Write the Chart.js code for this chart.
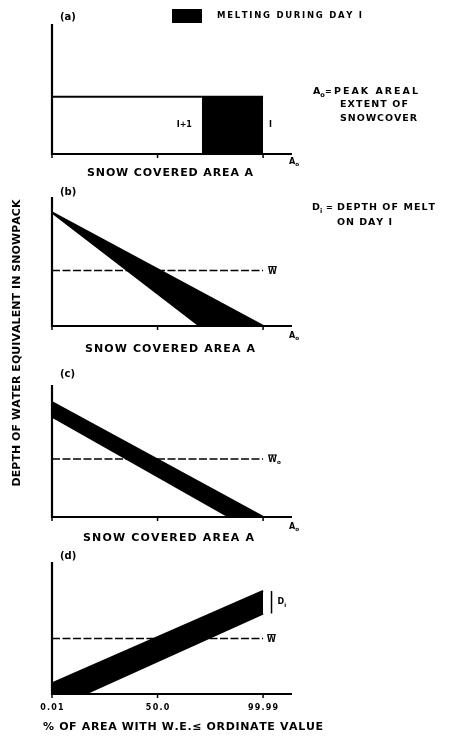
<!DOCTYPE html>
<html>
<head>
<meta charset="utf-8">
<script src="https://cdn.jsdelivr.net/npm/chart.js@4.4.0/dist/chart.umd.min.js"></script>
<style>
  html, body { margin: 0; padding: 0; background: #fff; }
  #wrap { position: relative; width: 449px; height: 741px; }
  #wrap canvas { position: absolute; left: 0; top: 0; }
</style>
</head>
<body>
<div id="wrap">
  <canvas id="chartA" width="449" height="741"></canvas>
  <canvas id="chartB" width="449" height="741"></canvas>
  <canvas id="chartC" width="449" height="741"></canvas>
  <canvas id="chartD" width="449" height="741"></canvas>
</div>
<script>
// (a) snow covered area after day i+1 and day i (fraction of A0), uniform depth
var areaA = [0.71, 1.0];
var depthA = 0.44;

// (b) depth falls linearly to zero, same depth at A = 0 both days
var areaB = [0.70, 1.0];
var depthB = 0.88;
var meanB = 0.43;

// (c) depth at A = 0 for day i+1 and day i
var areaC = [0.84, 1.0];
var depthC = [0.76, 0.87];
var meanC = 0.44;

// (d) depth vs % of area, probability axis
var probTicks = ['0.01', '50.0', '99.99'];
var tickPos = [0, 0.5, 1];
var startD = 0.08;       // day i at 0.01 %
var zeroD = 0.156;       // day i+1 reaches zero
var endD = [0.61, 0.78]; // at 99.99 %: day i+1, day i
var meanD = 0.42;

var XMAX = 1.137;
var FONT = '"DejaVu Sans", sans-serif';

// draw text with letters spread out to fill width w
function spread(ctx, str, x, y, w, size) {
  ctx.font = 'bold ' + size + 'px ' + FONT;
  ctx.textBaseline = 'middle';
  ctx.textAlign = 'left';
  var widths = [], total = 0;
  for (var i = 0; i < str.length; i++) {
    var cw = ctx.measureText(str[i]).width;
    widths.push(cw);
    total += cw;
  }
  var gap = (w && str.length > 1) ? (w - total) / (str.length - 1) : 0;
  var cx = x;
  for (var i = 0; i < str.length; i++) {
    ctx.fillText(str[i], cx, y);
    cx += widths[i] + gap;
  }
  return cx;
}

function withSub(ctx, main, sub, x, y, size) {
  var end = spread(ctx, main, x, y, null, size);
  spread(ctx, sub, end, y + size * 0.35, null, size * 0.7);
}

function wBar(ctx, sub, x, y, size) {
  ctx.font = 'bold ' + size + 'px ' + FONT;
  var w = ctx.measureText('W').width;
  spread(ctx, 'W', x, y, null, size);
  ctx.lineWidth = 1;
  ctx.beginPath();
  ctx.moveTo(x, y - size * 0.62);
  ctx.lineTo(x + w, y - size * 0.62);
  ctx.stroke();
  if (sub) spread(ctx, sub, x + w, y + size * 0.35, null, size * 0.7);
}

function drawAxes(chart) {
  var ctx = chart.ctx, a = chart.chartArea, xs = chart.scales.x;
  ctx.strokeStyle = '#000';
  ctx.fillStyle = '#000';
  ctx.lineWidth = 2.2;
  ctx.beginPath();
  ctx.moveTo(a.left, a.top);
  ctx.lineTo(a.left, a.bottom);
  ctx.lineTo(a.right, a.bottom);
  ctx.stroke();
  ctx.lineWidth = 1.5;
  tickPos.forEach(function (v) {
    var px = xs.getPixelForValue(v);
    ctx.beginPath();
    ctx.moveTo(px, a.bottom);
    ctx.lineTo(px, a.bottom + 4);
    ctx.stroke();
  });
}

function makeChart(id, top, bottom, datasets, extra) {
  return new Chart(document.getElementById(id), {
    type: 'line',
    data: { datasets: datasets },
    options: {
      responsive: false,
      animation: false,
      layout: { padding: { left: 52, right: 157, top: top, bottom: 741 - bottom } },
      scales: {
        x: { type: 'linear', display: false, min: 0, max: XMAX },
        y: { display: false, min: 0, max: 1 }
      },
      plugins: { legend: { display: false }, tooltip: { enabled: false } },
      elements: {
        point: { radius: 0 },
        line: { tension: 0, borderColor: '#000', borderWidth: 2 }
      }
    },
    plugins: [{
      id: 'panel' + id,
      afterDatasetsDraw: function (chart) {
        var ctx = chart.ctx;
        ctx.save();
        drawAxes(chart);
        extra(ctx, chart);
        ctx.restore();
      }
    }]
  });
}

function meanLine(v) {
  return { data: [{ x: 0, y: v }, { x: 1, y: v }], borderWidth: 1.5, borderDash: [8, 2.5], fill: false };
}

// (a)
makeChart('chartA', 24, 154, [
  { data: [{ x: 0, y: depthA }, { x: areaA[0], y: depthA }], fill: false },
  { data: [{ x: areaA[0], y: depthA }, { x: areaA[1], y: depthA }], fill: 'origin', backgroundColor: '#000' }
], function (ctx, chart) {
  var xs = chart.scales.x, ys = chart.scales.y, a = chart.chartArea;
  spread(ctx, '(a)', 60, 17, null, 10);
  ctx.fillRect(172, 9, 30, 14);
  spread(ctx, 'MELTING DURING DAY I', 217, 16, 145, 8.5);
  spread(ctx, 'I+1', xs.getPixelForValue(areaA[0]) - 25, ys.getPixelForValue(depthA / 2), 15, 8);
  spread(ctx, 'I', xs.getPixelForValue(areaA[1]) + 6, ys.getPixelForValue(depthA / 2), null, 8);
  withSub(ctx, 'A', 'o', a.right - 3, a.bottom + 8, 8);
  spread(ctx, 'SNOW COVERED AREA A', 87, 173, 166, 11);
  // notes on the right
  withSub(ctx, 'A', 'o', 313, 92, 9.5);
  spread(ctx, '=', 325, 92, null, 8);
  spread(ctx, 'PEAK AREAL', 334, 92, 84, 9.5);
  spread(ctx, 'EXTENT OF', 340, 105, 68, 9.5);
  spread(ctx, 'SNOWCOVER', 340, 119, 77, 9.5);
  // y title
  ctx.save();
  ctx.translate(17, 343);
  ctx.rotate(-Math.PI / 2);
  spread(ctx, 'DEPTH OF WATER EQUIVALENT IN SNOWPACK', -143.5, 0, 287, 11);
  ctx.restore();
});

// (b)
makeChart('chartB', 197, 326, [
  { data: [{ x: 0, y: depthB }, { x: areaB[1], y: 0 }], fill: '+1', backgroundColor: '#000' },
  { data: [{ x: 0, y: depthB }, { x: areaB[0], y: 0 }, { x: areaB[1], y: 0 }], fill: false },
  meanLine(meanB)
], function (ctx, chart) {
  var xs = chart.scales.x, ys = chart.scales.y, a = chart.chartArea;
  spread(ctx, '(b)', 60, 192, null, 10);
  wBar(ctx, null, xs.getPixelForValue(1) + 5, ys.getPixelForValue(meanB) + 1, 8);
  withSub(ctx, 'A', 'o', a.right - 3, a.bottom + 10, 8);
  spread(ctx, 'SNOW COVERED AREA A', 85, 349, 170, 11);
  withSub(ctx, 'D', 'i', 312, 208, 9.5);
  spread(ctx, '=', 326, 208, null, 8);
  spread(ctx, 'DEPTH OF MELT', 337, 208, 98, 9.5);
  spread(ctx, 'ON DAY I', 337, 223, 55, 9.5);
});

// (c)
makeChart('chartC', 385, 517, [
  { data: [{ x: 0, y: depthC[1] }, { x: areaC[1], y: 0 }], fill: '+1', backgroundColor: '#000' },
  { data: [{ x: 0, y: depthC[0] }, { x: areaC[0], y: 0 }, { x: areaC[1], y: 0 }], fill: false },
  meanLine(meanC)
], function (ctx, chart) {
  var xs = chart.scales.x, ys = chart.scales.y, a = chart.chartArea;
  spread(ctx, '(c)', 60, 374, null, 10);
  wBar(ctx, 'o', xs.getPixelForValue(1) + 5, ys.getPixelForValue(meanC) + 1, 8);
  withSub(ctx, 'A', 'o', a.right - 3, a.bottom + 10, 8);
  spread(ctx, 'SNOW COVERED AREA A', 83, 538, 171, 11);
});

// (d)
makeChart('chartD', 562, 694, [
  { data: [{ x: 0, y: startD }, { x: 1, y: endD[1] }], fill: '+1', backgroundColor: '#000' },
  { data: [{ x: 0, y: 0 }, { x: zeroD, y: 0 }, { x: 1, y: endD[0] }], fill: false },
  meanLine(meanD),
  { data: [{ x: 1.04, y: endD[0] }, { x: 1.04, y: endD[1] }], borderWidth: 1.5, fill: false }
], function (ctx, chart) {
  var xs = chart.scales.x, ys = chart.scales.y;
  spread(ctx, '(d)', 60, 556, null, 10);
  wBar(ctx, null, xs.getPixelForValue(1) + 4, ys.getPixelForValue(meanD) + 1, 8);
  withSub(ctx, 'D', 'i', xs.getPixelForValue(1.04) + 6, ys.getPixelForValue((endD[0] + endD[1]) / 2), 8);
  probTicks.forEach(function (t, i) {
    ctx.font = 'bold 8px ' + FONT;
    var w = ctx.measureText(t).width + (t.length - 1) * 1.2;
    spread(ctx, t, xs.getPixelForValue(tickPos[i]) - w / 2, 708, w, 8);
  });
  spread(ctx, '% OF AREA WITH W.E.\u2264 ORDINATE VALUE', 43, 727, 280, 11);
});
</script>
</body>
</html>
